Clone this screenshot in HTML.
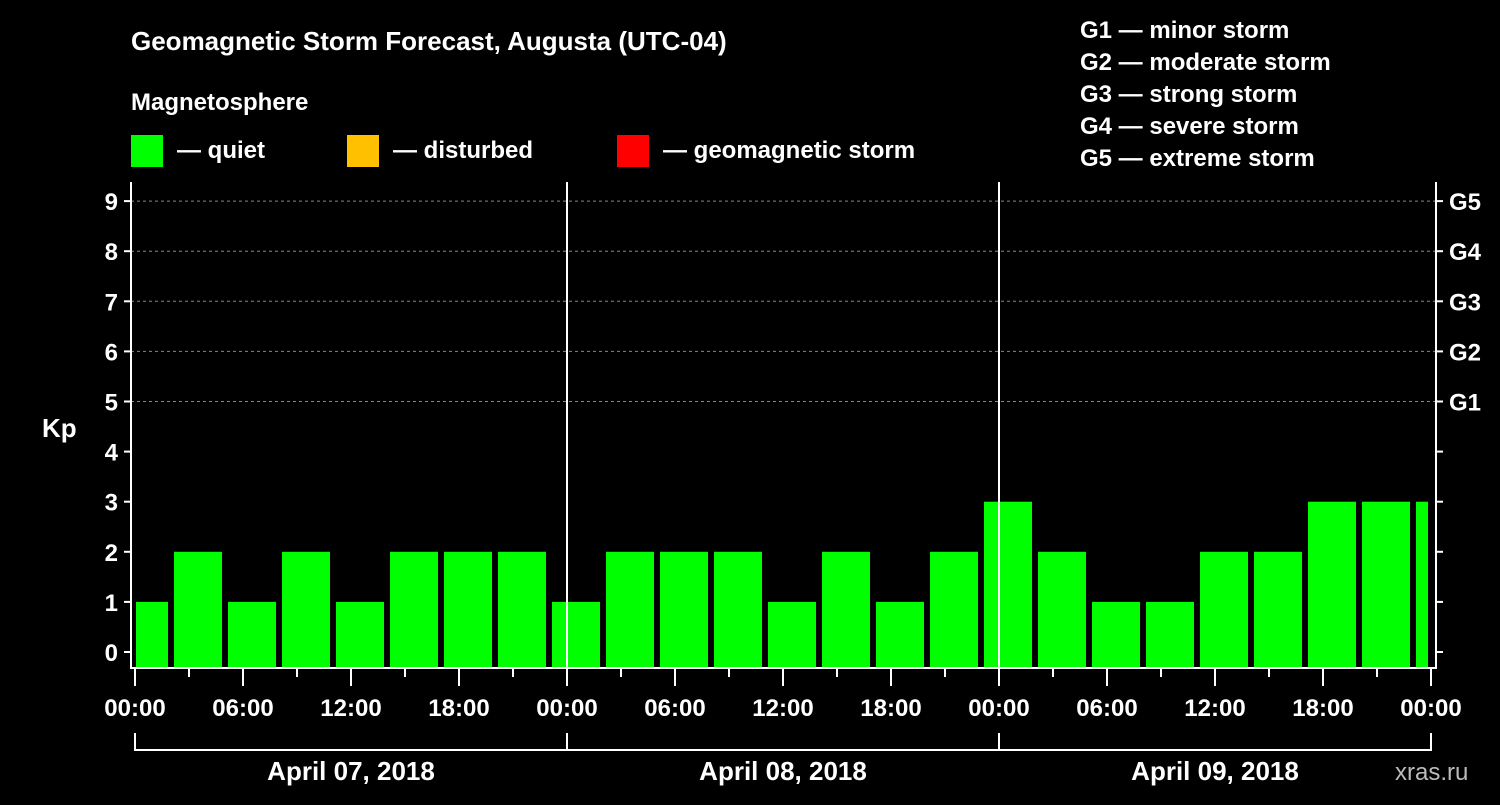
<!DOCTYPE html>
<html><head><meta charset="utf-8"><style>
body{margin:0;background:#000;width:1500px;height:800px;overflow:hidden}
svg text{font-family:"Liberation Sans",sans-serif;font-weight:bold;fill:#fff}
</style></head><body>
<svg id="c" width="1500" height="800">
<rect width="1500" height="800" fill="#000"/>
<text x="131" y="50" font-size="26">Geomagnetic Storm Forecast, Augusta (UTC-04)</text>
<text x="131" y="110" font-size="24">Magnetosphere</text>
<g><rect x="131" y="135" width="32" height="32" fill="#00ff00"/><text x="177" y="158" font-size="24">— quiet</text></g>
<g><rect x="347" y="135" width="32" height="32" fill="#ffc000"/><text x="393" y="158" font-size="24">— disturbed</text></g>
<g><rect x="617" y="135" width="32" height="32" fill="#ff0000"/><text x="663" y="158" font-size="24">— geomagnetic storm</text></g>
<g font-size="24">
<text x="1080" y="38">G1 — minor storm</text>
<text x="1080" y="70">G2 — moderate storm</text>
<text x="1080" y="102">G3 — strong storm</text>
<text x="1080" y="134">G4 — severe storm</text>
<text x="1080" y="166">G5 — extreme storm</text>
</g>
<text x="42" y="437" font-size="26">Kp</text>
<text x="1395" y="780" font-size="24" fill="#bbb" style="fill:#bbb;font-weight:normal">xras.ru</text>
<g id="grid"></g><g id="bars"></g><g id="axes"></g>
</svg>
<script>
const kpValues=[1,2,1,2,1,2,2,2,1,2,2,2,1,2,1,2,3,2,1,1,2,2,3,3,3];
const dayLabels=["April 07, 2018","April 08, 2018","April 09, 2018"];
const hourLabels=["00:00","06:00","12:00","18:00"];
const gLabels=["G1","G2","G3","G4","G5"];
const NS="http://www.w3.org/2000/svg";
const X0=135,PXH=18,L=131,R=1436,TOP=182,BOT=668;
const xh=h=>X0+h*PXH;
const y=v=>652-v*50.1;
function mk(t,a,p){const e=document.createElementNS(NS,t);for(const k in a)e.setAttribute(k,a[k]);p.appendChild(e);return e;}
const grid=document.getElementById('grid'),bars=document.getElementById('bars'),axes=document.getElementById('axes');
for(let v=5;v<=9;v++){const l=mk('line',{x1:L,x2:R,y1:y(v),y2:y(v),stroke:'#888','stroke-dasharray':'3,3'},grid);

}
kpValues.forEach((v,i)=>{
 const c=xh(i*3)+9;let x1=Math.max(c-24,136),x2=Math.min(c+24,1428);
 const col=v>=5?'#ff0000':v>=4?'#ffc000':'#00ff00';
 const r=mk('rect',{x:x1,y:y(v),width:x2-x1,height:BOT-y(v),fill:col},bars);
 
 
});
[1,2].forEach(d=>{const l=mk('line',{x1:xh(24*d),x2:xh(24*d),y1:TOP,y2:BOT,stroke:'#fff','stroke-width':2},axes);

});
mk('path',{d:`M${L} ${TOP}V${BOT}H${R}V${TOP}`,stroke:'#fff','stroke-width':2,fill:'none'},axes);
for(let v=0;v<=9;v++){
 mk('line',{x1:L-7,x2:L,y1:y(v),y2:y(v),stroke:'#fff','stroke-width':2},axes);
 mk('line',{x1:R,x2:R+7,y1:y(v),y2:y(v),stroke:'#fff','stroke-width':2},axes);
 const t=mk('text',{x:L-13,y:y(v)+9,'font-size':24,'text-anchor':'end'},axes);t.textContent=v;
 
 
}
gLabels.forEach((g,i)=>{const t=mk('text',{x:1449,y:y(5+i)+9,'font-size':24},axes);t.textContent=g;
 
 });
for(let h=0;h<=72;h+=3){
 const maj=h%6==0;
 mk('line',{x1:xh(h),x2:xh(h),y1:BOT,y2:BOT+(maj?18:9),stroke:'#fff','stroke-width':2},axes);
 if(maj){const t=mk('text',{x:xh(h),y:716,'font-size':24,'text-anchor':'middle'},axes);
  t.textContent=hourLabels[(h/6)%4];
  
  }
}
dayLabels.forEach((d,i)=>{
 const a=xh(24*i),b=xh(24*i+24);
 mk('path',{d:`M${a} 733V750H${b}V733`,stroke:'#fff','stroke-width':2,fill:'none'},axes);
 const t=mk('text',{x:(a+b)/2,y:780,'font-size':26,'text-anchor':'middle'},axes);t.textContent=d;
 
 
});
</script></body></html>
